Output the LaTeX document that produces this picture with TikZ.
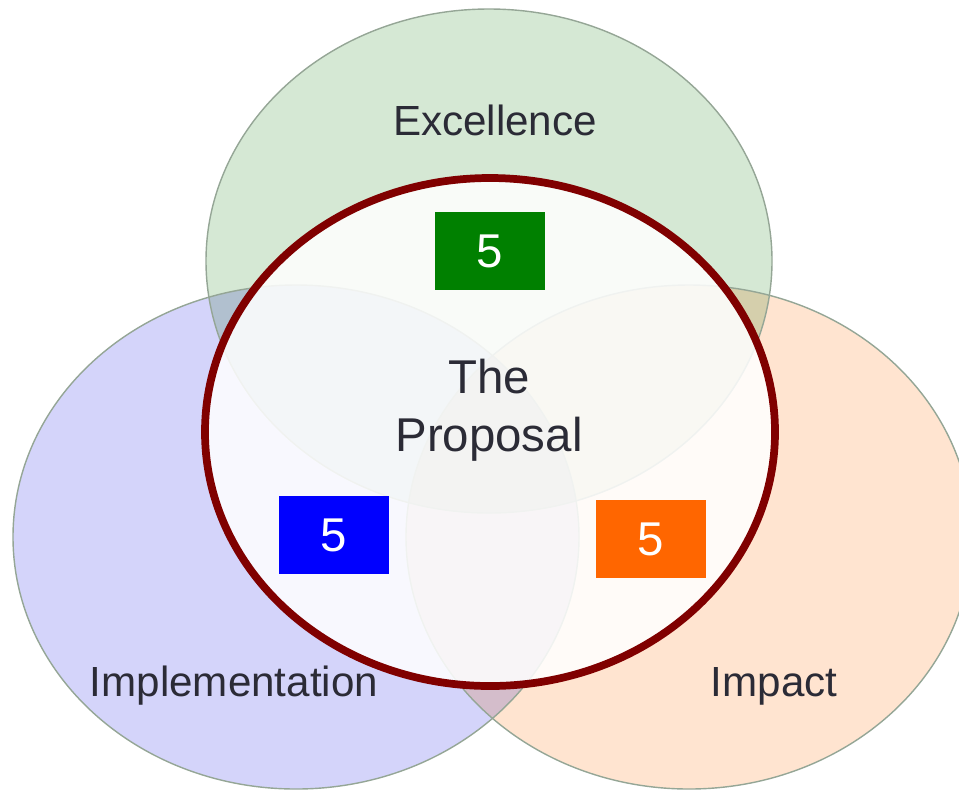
\documentclass[tikz,border=0pt]{standalone}
\usepackage{fontspec}
\setmainfont{Liberation Sans}
\usepackage{xcolor}

\definecolor{exgreen}{HTML}{D5E8D4}
\definecolor{imblue}{HTML}{D4D4FA}
\definecolor{imorange}{HTML}{FFE4D0}
\definecolor{rimgrey}{HTML}{95A696}
\definecolor{darkred}{HTML}{800000}
\definecolor{textgrey}{HTML}{2B2B36}
\definecolor{boxorange}{HTML}{FF6600}

\tikzset{
  field/.style={draw=rimgrey, line width=0.8pt},
  label/.style={text=textgrey, font=\fontsize{24}{33}\selectfont, inner sep=0pt},
  score/.style={minimum width=2.2cm, minimum height=1.56cm, inner sep=0pt,
                text=white, font=\fontsize{27}{30}\selectfont}
}

\begin{document}
\begin{tikzpicture}[x=0.02cm, y=-0.02cm]
\useasboundingbox (0,0) rectangle (959,789);
% the three fields, overlaps darken each other
\begin{scope}[blend mode=multiply]
\fill [exgreen]  (489,261) ellipse [x radius=283, y radius=252];
\fill [imblue]   (296,537) ellipse [x radius=283, y radius=252];
\fill [imorange] (689,537) ellipse [x radius=283, y radius=252];
\end{scope}
\draw [field] (489,261) ellipse [x radius=283, y radius=252];
\draw [field] (296,537) ellipse [x radius=283, y radius=252];
\draw [field] (689,537) ellipse [x radius=283, y radius=252];
\filldraw [draw=darkred, line width=4.4pt, fill=white, fill opacity=0.86, draw opacity=1]
      (490,432) ellipse [x radius=285, y radius=254];

\node [label] (excellence) at (495,120) {Excellence};
\node [label] (implementation) at (234,686) {Implementation};
\node [label] (impact) at (774,686) {Impact};
\node [label, align=center, font=\fontsize{27}{33}\selectfont]
      (proposal) at (489,410) {The\\Proposal};

\node [score, fill=green!50!black] (exscore) at (490,251) {5};
\node [score, fill=blue] (imscore) at (334,535) {5};
\node [score, fill=boxorange] (ipscore) at (651,539) {5};
\end{tikzpicture}
\end{document}
